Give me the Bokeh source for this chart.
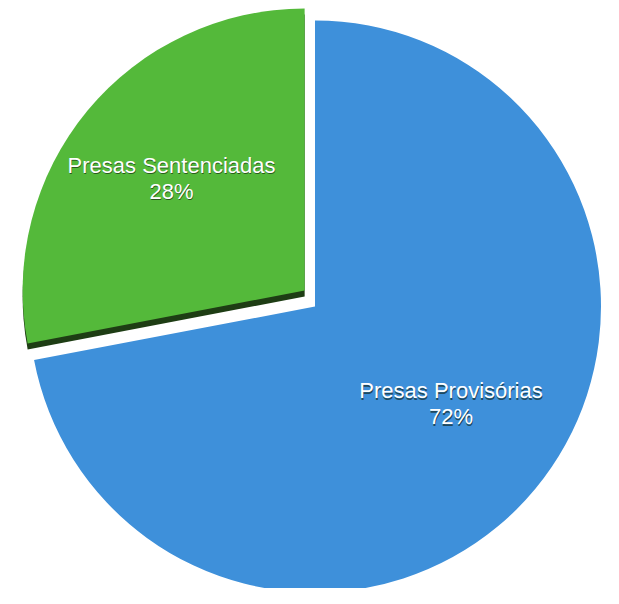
import math
from bokeh.plotting import figure
from bokeh.models import Range1d
from bokeh.core.properties import value
from bokeh.embed import file_html
from bokeh.resources import INLINE

labels = ["Presas Provisórias", "Presas Sentenciadas"]
values = [72, 28]
colors = ["#3e90da", "#54b93a"]
edge_colors = [None, "#1e3d14"]
radii = [286, 282]
explode_dist = [0, 19]
explode_angle = [0, 123]      # degrees
label_frac = [0.585, 0.617]
label_angle_shift = [4, -0.5]   # degrees

W, H = 603, 588
p = figure(width=W, height=H, output_backend="svg", toolbar_location=None,
           x_range=Range1d(0, W), y_range=Range1d(0, H), min_border=0)
p.axis.visible = False
p.grid.visible = False
p.outline_line_color = None
p.background_fill_color = "white"
p.border_fill_color = "white"

cx, cy = 314.5, 282
total = sum(values)

# second slice starts at 12 o'clock going counter-clockwise
start = 90.0
angles = [None, None]
for i in [1, 0]:
    end = start + values[i] / total * 360
    angles[i] = (start, end)
    start = end

origins = []
for i in range(2):
    ea = math.radians(explode_angle[i])
    origins.append((cx + explode_dist[i] * math.cos(ea),
                    cy + explode_dist[i] * math.sin(ea)))

for i in [0, 1]:
    a0, a1 = angles[i]
    ox, oy = origins[i]
    if edge_colors[i]:
        p.wedge(x=[ox], y=[oy - 6], radius=radii[i], start_angle=[math.radians(a0)],
                end_angle=[math.radians(a1)], radius_units="data",
                fill_color=edge_colors[i], line_color=None)
    p.wedge(x=[ox], y=[oy], radius=radii[i], start_angle=[math.radians(a0)],
            end_angle=[math.radians(a1)], radius_units="data",
            fill_color=colors[i], line_color=None)

font = value("Liberation Sans")
for i in [0, 1]:
    a0, a1 = angles[i]
    mid = math.radians((a0 + a1) / 2 + label_angle_shift[i])
    ox, oy = origins[i]
    lx = ox + label_frac[i] * radii[i] * math.cos(mid)
    ly = oy + label_frac[i] * radii[i] * math.sin(mid)
    lines = [labels[i], f"{values[i]}%"]
    for j, t in enumerate(lines):
        yoff = -13 + j * 26
        p.text(x=[lx], y=[ly], text=[t], x_offset=0.5, y_offset=yoff + 1.5,
               text_font=font, text_font_size="22px", text_color="#0a1a0a",
               text_alpha=0.6, text_align="center", text_baseline="middle")
        p.text(x=[lx], y=[ly], text=[t], y_offset=yoff,
               text_font=font, text_font_size="22px", text_color="white",
               text_align="center", text_baseline="middle")

open("out.html", "w").write(file_html(p, INLINE))
